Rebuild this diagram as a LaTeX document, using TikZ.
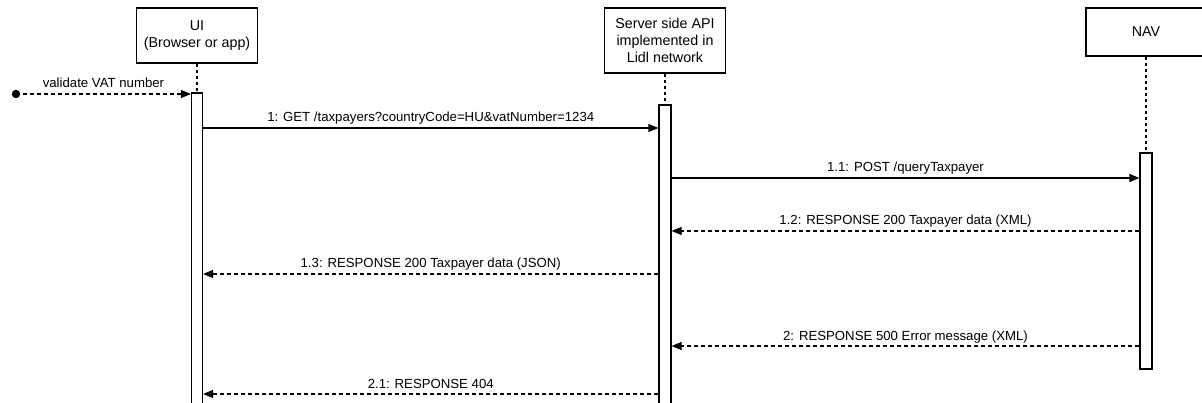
\documentclass[tikz,border=0pt]{standalone}
\usepackage{fontspec}
\setmainfont{Liberation Sans}
\usetikzlibrary{arrows.meta}
\begin{document}
\begin{tikzpicture}[x=1pt,y=-1pt,
  actor/.style={draw, line width=1.2pt, minimum width=121pt, align=center, font=\fontsize{14.3}{17}\selectfont, inner sep=0pt},
  bar/.style={draw, line width=1.2pt, fill=white, inner sep=0pt},
  life/.style={line width=1.1pt, dash pattern=on 3pt off 3pt},
  msg/.style={line width=1.2pt, -{Triangle[length=10pt,width=8pt]}},
  reply/.style={msg, dash pattern=on 4pt off 3pt},
  lbl/.style={font=\fontsize{13.2}{15}\selectfont, anchor=base, yshift=6pt, midway}]
\useasboundingbox (0,0) rectangle (1202,403);
% actors
\node[actor, minimum height=55pt] (ui) at (197,35.5) {UI\\(Browser or app)};
\node[actor, minimum height=65pt] (srv) at (665,40.5) {Server side API\\implemented in\\Lidl network};
\node[actor, minimum height=48pt, minimum width=120pt] (nav) at (1146,32) {NAV};
% activation bars
\node[bar, minimum width=11pt, minimum height=317pt] (uibar) at (197,251.5) {};
\node[bar, minimum width=12pt, minimum height=305pt] (srvbar) at (665,257.5) {};
\node[bar, minimum width=12pt, minimum height=216pt] (navbar) at (1146,261) {};
% lifelines
\draw[life] (ui.south) -- (uibar.north);
\draw[life] (srv.south) -- (srvbar.north);
\draw[life] (nav.south) -- (navbar.north);
% start
\coordinate (start) at (16,94);
\fill (start) circle (4.2pt);
\draw[reply] (start) -- (uibar.west |- start) node[lbl] {validate VAT number};
% messages
\draw[msg] (uibar.east |- 0,128) -- (srvbar.west |- 0,128) node[lbl] {1: GET /taxpayers?countryCode=HU\&vatNumber=1234};
\draw[msg] (srvbar.east |- 0,178) -- (navbar.west |- 0,178) node[lbl] {1.1: POST /queryTaxpayer};
\draw[reply] (navbar.west |- 0,231) -- (srvbar.east |- 0,231) node[lbl] {1.2: RESPONSE 200 Taxpayer data (XML)};
\draw[reply] (srvbar.west |- 0,274) -- (uibar.east |- 0,274) node[lbl] {1.3: RESPONSE 200 Taxpayer data (JSON)};
\draw[reply] (navbar.west |- 0,346) -- (srvbar.east |- 0,346) node[lbl] {2: RESPONSE 500 Error message (XML)};
\draw[reply] (srvbar.west |- 0,394) -- (uibar.east |- 0,394) node[lbl] {2.1: RESPONSE 404};
\end{tikzpicture}
\end{document}
